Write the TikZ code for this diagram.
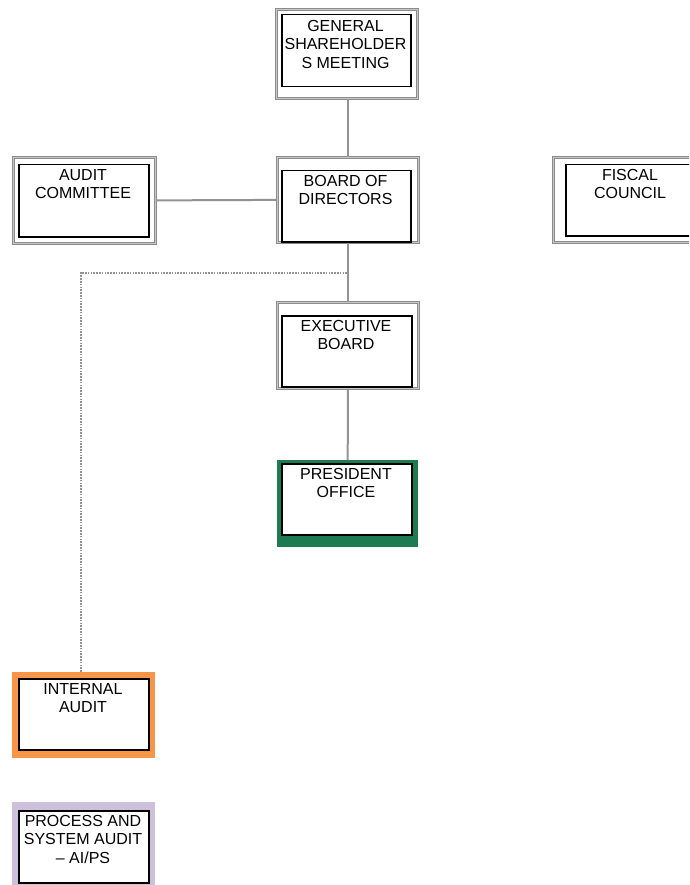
\documentclass[tikz,border=0pt]{standalone}
\usepackage{fontspec}
\newfontfamily\orgfont{Liberation Sans}
\usetikzlibrary{calc}

\definecolor{presgreen}{RGB}{30,122,80}
\definecolor{auditorange}{RGB}{247,150,70}
\definecolor{proclavender}{RGB}{204,192,218}

\begin{document}
\begin{tikzpicture}[x=1pt, y=-1pt,
  boxframe/.style={draw=gray!90, double=gray!45, line width=0.8pt, double distance=0.7pt, inner sep=0pt, anchor=north west},
  boxfill/.style={draw=none, inner sep=0pt, anchor=north west},
  card/.style={draw=black, line width=1.5pt, fill=white, inner sep=0pt, anchor=north west},
  caption/.style={font=\orgfont\fontsize{16}{18.5}\selectfont, align=center, anchor=north, inner sep=0pt},
  link/.style={draw=gray!85, line width=2pt},
  dotlink/.style={draw=gray!85, line width=1.6pt, dash pattern=on 1.6pt off 1.2pt}]

% Page
\useasboundingbox (0,0) rectangle (689,885);
\clip (0,0) rectangle (689,885);

% General shareholders meeting
\node[boxframe, minimum width=141pt, minimum height=89pt] (gsm) at (276,9) {};
\node[card, minimum width=129pt, minimum height=72pt] (gsmcard) at (281,14) {};
\node[caption] (gsmtext) at (345.5,20) {GENERAL\\SHAREHOLDER\\S MEETING};

% Board of directors
\node[boxframe, minimum width=141pt, minimum height=85pt] (board) at (277,157) {};
\node[card, minimum width=129pt, minimum height=71pt] (boardcard) at (281,170) {};
\node[caption] (boardtext) at (345.5,175) {BOARD OF\\DIRECTORS};

% Audit committee
\node[boxframe, minimum width=142pt, minimum height=86pt] (committee) at (13,157) {};
\node[card, minimum width=130pt, minimum height=72pt] (committeecard) at (18,164) {};
\node[caption] (committeetext) at (83,169) {AUDIT\\COMMITTEE};

% Fiscal council (cut by the page edge)
\node[boxframe, minimum width=147pt, minimum height=85pt] (fiscal) at (553,157) {};
\node[card, minimum width=130pt, minimum height=71pt] (fiscalcard) at (565,164) {};
\node[caption] (fiscaltext) at (630,169) {FISCAL\\COUNCIL};

% Executive board
\node[boxframe, minimum width=141pt, minimum height=86pt] (exec) at (277,302) {};
\node[card, minimum width=130pt, minimum height=71pt] (execcard) at (281,315) {};
\node[caption] (exectext) at (346,320) {EXECUTIVE\\BOARD};

% President office
\node[boxfill, fill=presgreen, minimum width=141pt, minimum height=87pt] (president) at (277,460) {};
\node[card, minimum width=130pt, minimum height=71pt] (presidentcard) at (281,463) {};
\node[caption] (presidenttext) at (346,468) {PRESIDENT\\OFFICE};

% Internal audit
\node[boxfill, fill=auditorange, minimum width=143pt, minimum height=86pt] (internal) at (12,672) {};
\node[card, minimum width=130pt, minimum height=71pt] (internalcard) at (18,678) {};
\node[caption] (internaltext) at (83,683) {INTERNAL\\AUDIT};

% Process and system audit
\node[boxfill, fill=proclavender, minimum width=143pt, minimum height=88pt] (process) at (12,802) {};
\node[card, minimum width=130pt, minimum height=72pt] (processcard) at (18,810) {};
\node[caption] (processtext) at (83,815) {PROCESS AND\\SYSTEM AUDIT\\\textendash{} AI/PS};

% Links
\draw[link] (board.north |- gsm.south) -- (board.north);
\draw[link] (committee.east) -- (board.west);
\draw[link] (board.south) -- (exec.north);
\draw[link] (exec.south) -- (president.north);

% Dotted reporting line
\coordinate (split) at ($(board.south)+(-1,30)$);
\draw[dotlink] (split) -| ($(internal.north)+(-3,0)$);

\end{tikzpicture}
\end{document}
